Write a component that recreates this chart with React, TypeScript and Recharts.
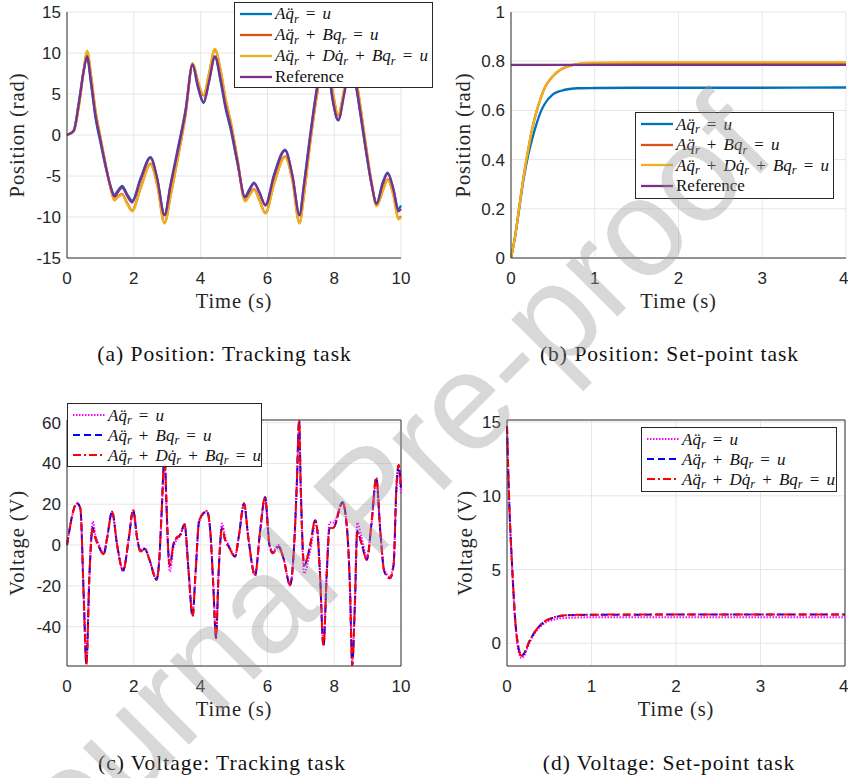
import React from "react";
import { LineChart, Line, XAxis, YAxis, CartesianGrid, Legend, ReferenceLine } from "recharts";

const SERIF = "'Liberation Serif', 'Times New Roman', serif";
const SANS = "'Liberation Sans', Arial, sans-serif";
const AX = "#333333";

// (a) position, tracking task
const timeA = [0, 0.2, 0.35, 0.5, 0.6, 0.72, 0.85, 1.0, 1.15, 1.3, 1.42, 1.52, 1.65, 1.8, 1.95, 2.2, 2.5, 2.7, 2.92, 3.1, 3.3, 3.55, 3.76, 3.92, 4.09, 4.25, 4.43, 4.6, 4.75, 4.9, 5.1, 5.33, 5.46, 5.6, 5.76, 5.94, 6.2, 6.53, 6.75, 6.96, 7.1, 7.28, 7.53, 7.77, 7.95, 8.12, 8.3, 8.5, 8.67, 8.82, 8.97, 9.12, 9.27, 9.45, 9.6, 9.78, 9.92, 10];
const accA = [0, 0.55, 3.9, 7.9, 9.5, 6.2, 2.2, -0.9, -3.8, -6.2, -7.3, -6.8, -6.2, -7.2, -8.0, -5.3, -2.7, -5.3, -9.7, -6.0, -2.0, 3.1, 8.5, 5.8, 3.9, 6.5, 9.5, 6.5, 3.2, 0.7, -3.4, -7.5, -6.6, -5.8, -7.0, -8.5, -4.8, -1.8, -5.0, -9.7, -5.8, 0.0, 6.8, 9.4, 4.3, 1.8, 5.2, 9.1, 5.5, 1.5, -2.5, -6.1, -8.3, -5.8, -4.6, -6.7, -9.0, -8.6];
const stiffA = [0, 0.45, 3.4, 7.8, 10.2, 7.2, 3.0, -0.3, -3.5, -6.4, -7.9, -7.5, -7.2, -8.3, -9.2, -6.5, -3.5, -6.0, -10.7, -7.4, -3.2, 2.5, 8.7, 6.5, 4.8, 7.4, 10.4, 7.8, 4.3, 1.6, -2.9, -8.0, -7.3, -6.6, -7.9, -9.5, -5.9, -2.6, -5.5, -10.7, -7.1, -1.0, 6.0, 10.1, 5.4, 2.4, 5.5, 9.9, 6.5, 2.4, -1.9, -5.8, -8.6, -6.8, -5.4, -7.4, -10.2, -9.9];
const dampA = [0, 0.45, 3.4, 7.9, 10.3, 7.3, 3.1, -0.2, -3.4, -6.4, -8.0, -7.6, -7.3, -8.4, -9.3, -6.6, -3.6, -6.1, -10.8, -7.5, -3.2, 2.5, 8.8, 6.6, 4.9, 7.5, 10.5, 7.9, 4.4, 1.7, -2.8, -8.1, -7.4, -6.7, -8.0, -9.6, -6.0, -2.7, -5.6, -10.8, -7.2, -1.0, 6.1, 10.2, 5.5, 2.5, 5.6, 10.0, 6.6, 2.5, -1.8, -5.8, -8.7, -6.9, -5.5, -7.5, -10.3, -10.0];
const refA = [0, 0.5, 3.7, 7.8, 9.6, 6.5, 2.5, -0.6, -3.6, -6.2, -7.5, -7.0, -6.4, -7.4, -8.2, -5.5, -2.8, -5.3, -9.8, -6.2, -2.3, 2.9, 8.6, 6.0, 4.0, 6.5, 9.6, 6.8, 3.5, 1.0, -3.2, -7.6, -6.8, -5.9, -7.0, -8.6, -5.0, -1.9, -5.0, -9.8, -6.0, -0.3, 6.6, 9.5, 4.5, 1.8, 5.0, 9.2, 5.8, 1.8, -2.3, -6.0, -8.4, -6.0, -4.7, -6.8, -9.3, -9.0];

// (b) position, set-point task
const timeB = [0, 0.05, 0.1, 0.15, 0.2, 0.25, 0.3, 0.35, 0.4, 0.5, 0.6, 0.7, 0.8, 1.0, 1.5, 2, 3, 4];
const accB = [0, 0.09, 0.205, 0.32, 0.41, 0.48, 0.54, 0.59, 0.625, 0.665, 0.68, 0.687, 0.69, 0.691, 0.692, 0.692, 0.692, 0.693];
const stiffB = [0, 0.09, 0.21, 0.33, 0.43, 0.52, 0.59, 0.645, 0.69, 0.739, 0.767, 0.781, 0.788, 0.792, 0.793, 0.793, 0.793, 0.793];
const dampB = [0, 0.09, 0.21, 0.33, 0.43, 0.52, 0.59, 0.645, 0.69, 0.74, 0.768, 0.782, 0.789, 0.794, 0.795, 0.795, 0.795, 0.795];
const refB = [0.785, 0.785, 0.785, 0.785, 0.785, 0.785, 0.785, 0.785, 0.785, 0.785, 0.785, 0.785, 0.785, 0.785, 0.785, 0.785, 0.785, 0.785];

// (c) voltage, tracking task
const timeC = [0, 0.3, 0.4, 0.5, 0.58, 0.67, 0.77, 0.85, 0.95, 1.1, 1.2, 1.35, 1.5, 1.68, 1.85, 1.98, 2.1, 2.2, 2.33, 2.47, 2.68, 2.76, 2.83, 2.92, 2.98, 3.03, 3.08, 3.18, 3.28, 3.39, 3.52, 3.64, 3.76, 3.85, 3.96, 4.19, 4.29, 4.38, 4.46, 4.54, 4.64, 4.74, 4.84, 5.03, 5.15, 5.3, 5.43, 5.63, 5.78, 5.93, 6.06, 6.16, 6.33, 6.48, 6.68, 6.8, 6.88, 6.95, 7.0, 7.1, 7.28, 7.43, 7.5, 7.57, 7.68, 7.78, 7.86, 7.98, 8.25, 8.39, 8.47, 8.54, 8.62, 8.69, 8.8, 8.98, 9.12, 9.26, 9.38, 9.5, 9.67, 9.78, 9.86, 9.93, 10];
const accC = [0, 20.3, 17.5, -24, -57, -15, 11.5, 5, 0.5, -4.3, 3.5, 16, 0.5, -12.8, 3, 17, 3.8, -2.5, -1.5, -7, -16.5, -7, 14, 42, 17, -4, -13, -2, 2.5, 4.5, 10, -12, -34, -14, 11.5, 16.2, 7.5, -19, -44, -14, 10.5, 3.5, 0, -5.2, 4.5, 20, 4, -14.5, 6, 23, 1, -3, 0, -6, -19.8, -1, 28, 59, 26, -14, -3, 9.5, 8, -11, -48, -11, 11, 11, 20.5, 7.5, -19, -57, -27, 11, 5, -5.5, 10.5, 32, 7.5, -12, -15.5, -8, 25, 37, 25];
const stiffC = [0, 20.5, 18, -25, -58.5, -15.5, 8.5, 3.5, -0.6, -4.5, 3.3, 16.4, 0, -12.5, 3.3, 17.2, 3.4, -3.1, -1.9, -7.3, -17, -8, 15, 43.5, 19.5, -2.3, -10, 0, 3.5, 5, 10.2, -13, -35, -13, 12.3, 16.6, 6.7, -20, -45.5, -13, 8.4, 2.1, -0.7, -5.7, 5, 20.4, 3.3, -15, 6.6, 23.6, 0, -4, -0.8, -6.5, -19.6, 0, 30, 61, 27.5, -10, -0.2, 12.1, 6.1, -13, -49.6, -13, 8.4, 8.6, 21, 6.7, -20, -58.8, -29, 6.8, 1.8, -7.2, 11.5, 33, 6.6, -13, -16.3, -9.7, 27.6, 39.1, 27.8];
const dampC = [0, 20.5, 18, -25, -59, -15, 8.2, 3.3, -0.8, -4.5, 3.3, 16.4, 0, -12.5, 3.3, 17.2, 3.3, -3.2, -1.9, -7.3, -17, -8, 15, 44, 20, -2, -9.7, 0, 3.5, 5, 10.2, -13, -35, -13, 12.3, 16.7, 6.6, -20, -45.7, -13, 8.2, 2, -0.8, -5.7, 5, 20.5, 3.3, -15, 6.6, 23.7, 0, -4, -0.8, -6.5, -19.6, 0, 30, 61.3, 27.8, -9.7, 0, 12.3, 6, -13, -49.8, -13, 8.2, 8.5, 21, 6.6, -20, -59, -29, 6.6, 1.7, -7.3, 11.5, 33, 6.6, -13, -16.3, -9.7, 27.8, 39.3, 28];

// (d) voltage, set-point task
const timeD = [0, 0.03, 0.06, 0.1, 0.14, 0.17, 0.2, 0.27, 0.35, 0.45, 0.55, 0.7, 0.85, 1, 1.5, 2, 3, 4];
const accD = [14.7, 9.0, 5.2, 1.2, -0.6, -1.0, -0.85, 0.1, 0.85, 1.38, 1.6, 1.72, 1.75, 1.76, 1.76, 1.76, 1.76, 1.76];
const stiffD = [14.7, 9.0, 5.3, 1.4, -0.42, -0.86, -0.71, 0.19, 0.94, 1.49, 1.74, 1.89, 1.92, 1.94, 1.94, 1.95, 1.95, 1.95];
const dampD = [14.7, 9.0, 5.3, 1.4, -0.4, -0.85, -0.7, 0.2, 0.95, 1.5, 1.75, 1.9, 1.93, 1.94, 1.95, 1.95, 1.95, 1.95];

const ticks10 = [0, 2, 4, 6, 8, 10];
const ticks4 = [0, 1, 2, 3, 4];

const Sub = ({ children }: { children: React.ReactNode }) => (
  <span style={{ fontSize: "0.72em", fontStyle: "italic", position: "relative", top: "0.3em" }}>{children}</span>
);
const Op = ({ c }: { c: string }) => <span style={{ padding: "0 0.42em" }}>{c}</span>;

const accLabel = (
  <>
    <i>A</i><i>q&#776;</i><Sub>r</Sub><Op c="=" /><i>u</i>
  </>
);
const stiffLabel = (
  <>
    <i>A</i><i>q&#776;</i><Sub>r</Sub><Op c="+" /><i>B</i><i>q</i><Sub>r</Sub><Op c="=" /><i>u</i>
  </>
);
const dampLabel = (
  <>
    <i>A</i><i>q&#776;</i><Sub>r</Sub><Op c="+" /><i>D</i><i>q&#775;</i><Sub>r</Sub><Op c="+" /><i>B</i><i>q</i><Sub>r</Sub><Op c="=" /><i>u</i>
  </>
);

type Series = { key: string; color: string; width: number; dash?: string; label: React.ReactNode };

const posSeries: Series[] = [
  { key: "acc", color: "#0072BD", width: 2.3, label: accLabel },
  { key: "stiff", color: "#D95319", width: 2.3, label: stiffLabel },
  { key: "damp", color: "#EDB120", width: 2.3, label: dampLabel },
  { key: "ref", color: "#7E2F8E", width: 2.3, label: <>Reference</> },
];
const voltSeries: Series[] = [
  { key: "acc", color: "#FF00FF", width: 2, dash: "1.5 1.5", label: accLabel },
  { key: "stiff", color: "#0000FF", width: 2, dash: "7 4", label: stiffLabel },
  { key: "damp", color: "#FF0000", width: 2, dash: "8 3 2 3", label: dampLabel },
];

function zip(t: number[], cols: Record<string, number[]>) {
  return t.map((v, i) => {
    const row: Record<string, number> = { t: v };
    Object.keys(cols).forEach((k) => (row[k] = cols[k][i]));
    return row;
  });
}

function LegendBox({ items, w, h, rowH, padTop }: { items: Series[]; w: number; h: number; rowH: number; padTop: number }) {
  return (
    <div
      style={{
        width: w,
        height: h,
        boxSizing: "border-box",
        border: "1px solid #262626",
        background: "#fff",
        paddingTop: padTop,
        fontFamily: SERIF,
        fontSize: 17,
        color: "#111",
      }}
    >
      {items.map((s) => (
        <div key={s.key} style={{ display: "flex", alignItems: "center", height: rowH }}>
          <svg width={32} height={6} style={{ marginLeft: 5, marginRight: 3, flex: "none" }}>
            <line x1={0} y1={3} x2={32} y2={3} stroke={s.color} strokeWidth={s.width} strokeDasharray={s.dash} />
          </svg>
          <span style={{ whiteSpace: "nowrap", lineHeight: 1 }}>{s.label}</span>
        </div>
      ))}
    </div>
  );
}

type PanelProps = {
  left: number;
  top: number;
  width: number;
  height: number;
  margin: { top: number; right: number; left: number; bottom: number };
  yWidth: number;
  data: Record<string, number>[];
  series: Series[];
  xTicks: number[];
  xMax: number;
  yTicks: number[];
  yDomain: [number, number];
  yLabel: string;
  yLabelX: number;
  boxed: boolean;
  legend: { x: number; y: number; w: number; h: number; rowH: number; padTop: number };
};

function Panel(p: PanelProps) {
  const tickStyle = { fontFamily: SANS, fontSize: 17, fill: "#262626" };
  return (
    <div style={{ position: "absolute", left: p.left, top: p.top }}>
      <LineChart width={p.width} height={p.height} data={p.data} margin={p.margin}>
        <CartesianGrid stroke="#e6e6e6" strokeWidth={1} />
        <XAxis
          dataKey="t"
          type="number"
          domain={[0, p.xMax]}
          ticks={p.xTicks}
          height={62}
          tickLine={false}
          tickSize={0}
          tickMargin={14}
          tick={tickStyle}
          axisLine={{ stroke: AX }}
          label={{ value: "Time (s)", position: "insideBottom", offset: 12, style: { fontFamily: SERIF, fontSize: 20.5, fill: "#262626", letterSpacing: 0.9 } }}
        />
        <YAxis
          type="number"
          domain={p.yDomain}
          ticks={p.yTicks}
          width={p.yWidth}
          allowDataOverflow
          tickLine={false}
          tickSize={0}
          tickMargin={6}
          tick={tickStyle}
          axisLine={{ stroke: AX }}
          label={{ value: p.yLabel, angle: -90, position: "insideLeft", offset: p.yLabelX, style: { textAnchor: "middle", fontFamily: SERIF, fontSize: 20.5, fill: "#262626", letterSpacing: 0.9 } }}
        />
        {p.boxed && <ReferenceLine x={p.xMax} stroke={AX} />}
        {p.boxed && <ReferenceLine y={p.yDomain[1]} stroke={AX} />}
        {p.series.map((s) => (
          <Line
            key={s.key}
            dataKey={s.key}
            type="monotone"
            stroke={s.color}
            strokeWidth={s.width}
            strokeDasharray={s.dash}
            dot={false}
            activeDot={false}
            isAnimationActive={false}
          />
        ))}
        <Legend
          layout="vertical"
          align="center"
          verticalAlign="middle"
          width={p.legend.w}
          wrapperStyle={{ left: p.legend.x, top: p.legend.y, width: p.legend.w, height: p.legend.h }}
          content={() => <LegendBox items={p.series} w={p.legend.w} h={p.legend.h} rowH={p.legend.rowH} padTop={p.legend.padTop} />}
        />
      </LineChart>
    </div>
  );
}

const captions = [
  { x: 224.5, y: 354, text: "(a) Position: Tracking task" },
  { x: 669.5, y: 354, text: "(b) Position: Set-point task" },
  { x: 222, y: 763, text: "(c) Voltage: Tracking task" },
  { x: 669, y: 763, text: "(d) Voltage: Set-point task" },
];

export default function App() {
  const dataA = zip(timeA, { acc: accA, stiff: stiffA, damp: dampA, ref: refA });
  const dataB = zip(timeB, { acc: accB, stiff: stiffB, damp: dampB, ref: refB });
  const dataC = zip(timeC, { acc: accC, stiff: stiffC, damp: dampC });
  const dataD = zip(timeD, { acc: accD, stiff: stiffD, damp: dampD });

  return (
    <div style={{ position: "absolute", left: 0, top: 0, width: 848, height: 778, background: "#fff", overflow: "hidden" }}>
      <Panel
        left={0} top={0} width={424} height={320}
        margin={{ top: 12, right: 23, left: 0, bottom: 0 }}
        yWidth={67}
        data={dataA} series={posSeries}
        xTicks={ticks10} xMax={10}
        yTicks={[-15, -10, -5, 0, 5, 10, 15]} yDomain={[-15, 15]}
        yLabel="Position (rad)" yLabelX={17} boxed={false}
        legend={{ x: 234, y: 2, w: 199, h: 86, rowH: 21, padTop: 0 }}
      />
      <Panel
        left={430} top={0} width={418} height={320}
        margin={{ top: 12, right: 2, left: 0, bottom: 0 }}
        yWidth={81}
        data={dataB} series={posSeries}
        xTicks={ticks4} xMax={4}
        yTicks={[0, 0.2, 0.4, 0.6, 0.8, 1]} yDomain={[0, 1]}
        yLabel="Position (rad)" yLabelX={33} boxed={false}
        legend={{ x: 205, y: 112, w: 199, h: 87, rowH: 20.5, padTop: 1 }}
      />
      <Panel
        left={0} top={400} width={424} height={328}
        margin={{ top: 20, right: 23, left: 0, bottom: 0 }}
        yWidth={67}
        data={dataC} series={voltSeries}
        xTicks={ticks10} xMax={10}
        yTicks={[-40, -20, 0, 20, 40, 60]} yDomain={[-59.3, 61.3]}
        yLabel="Voltage (V)" yLabelX={17} boxed={true}
        legend={{ x: 67, y: 3, w: 195, h: 64, rowH: 20, padTop: 1 }}
      />
      <Panel
        left={430} top={400} width={418} height={328}
        margin={{ top: 20, right: 3, left: 0, bottom: 0 }}
        yWidth={77}
        data={dataD} series={voltSeries}
        xTicks={ticks4} xMax={4}
        yTicks={[0, 5, 10, 15]} yDomain={[-1.54, 15.14]}
        yLabel="Voltage (V)" yLabelX={35} boxed={true}
        legend={{ x: 211, y: 27, w: 196, h: 65, rowH: 20, padTop: 1 }}
      />
      <svg width={848} height={778} style={{ position: "absolute", left: 0, top: 0, pointerEvents: "none" }}>
        {captions.map((c) => (
          <text key={c.text} x={c.x} y={c.y} textAnchor="middle" dominantBaseline="central" fontFamily={SERIF} fontSize={21.5} letterSpacing={1} fill="#111">
            {c.text}
          </text>
        ))}
        <text
          x={368} y={498}
          transform="rotate(-45 368 498)"
          textAnchor="middle" dominantBaseline="central"
          fontFamily={SANS} fontSize={138}
          fill="#9a9a9a" opacity={0.38}
        >
          Journal Pre-proof
        </text>
      </svg>
    </div>
  );
}
